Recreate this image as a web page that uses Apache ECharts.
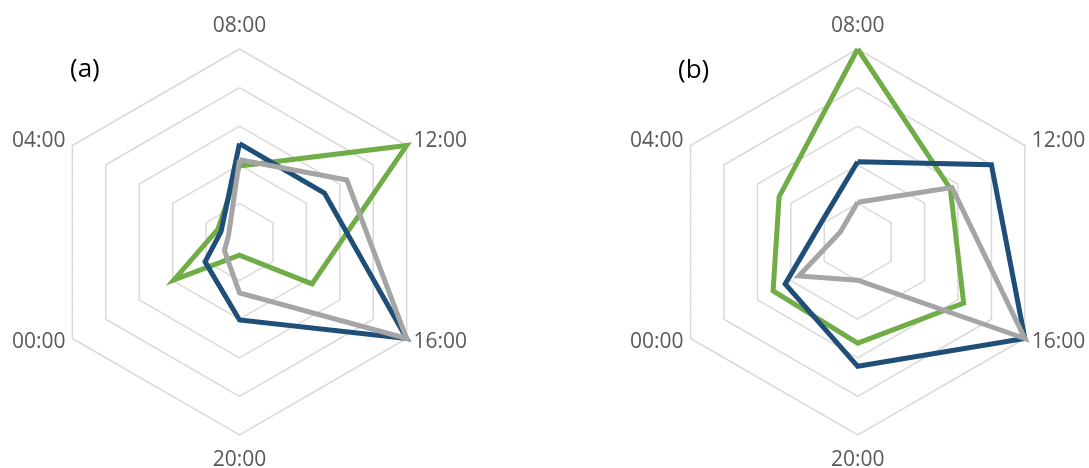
<!DOCTYPE html>
<html>
<head>
<meta charset="utf-8">
<script src="https://cdn.jsdelivr.net/npm/echarts@6/dist/echarts.min.js"></script>
<style>
  html, body { margin: 0; padding: 0; background: #fff; }
  #main { width: 1089px; height: 468px; }
</style>
</head>
<body>
<div id="main"></div>
<script>
// indicator labels, clockwise from the top
var hours = ['08:00', '12:00', '16:00', '20:00', '00:00', '04:00'];
var axisMax = 5;

// panel (a)
var blueA  = [2.55, 2.54, 5, 2.02, 1.03, 0.55];
var greenA = [1.97, 5, 2.17, 0.34, 1.96, 0.65];
var greyA  = [2.13, 3.21, 5, 1.32, 0.45, 0.33];

// panel (b)
var blueB  = [2.08, 4.0, 5, 3.22, 2.17, 1.07];
var greenB = [5, 2.77, 3.17, 2.62, 2.53, 2.35];
var greyB  = [1.03, 2.82, 5, 0.99, 1.76, 0.52];

// echarts lays indicators out anticlockwise, so reorder
var order = [0, 5, 4, 3, 2, 1];
function ccw(arr) { return order.map(function (i) { return arr[i]; }); }

var indicator = ccw(hours).map(function (h) { return { name: h, min: 0, max: axisMax }; });

function radar(cx) {
    return {
        center: [cx, 242],
        radius: 193,
        shape: 'polygon',
        splitNumber: 5,
        indicator: indicator,
        nameGap: 8,
        axisName: { color: '#595959', fontSize: 21, fontFamily: 'Open Sans', padding: [7, 0, 4, 0] },
        axisLine: { show: false },
        splitLine: { lineStyle: { color: '#d9d9d9', width: 1.5 } },
        splitArea: { show: false }
    };
}

function line(idx, values, color) {
    return {
        type: 'radar',
        radarIndex: idx,
        symbol: 'none',
        lineStyle: { color: color, width: 5, join: 'miter' },
        data: [{ value: ccw(values) }]
    };
}

var myChart = echarts.init(document.getElementById('main'));
myChart.setOption({
    animation: false,
    radar: [radar(239.5), radar(857.7)],
    graphic: [
        { type: 'text', x: 70, y: 70, style: { text: '(a)', fill: '#000', font: '26px "Open Sans"', verticalAlign: 'middle' } },
        { type: 'text', x: 678, y: 71, style: { text: '(b)', fill: '#000', font: '26px "Open Sans"', verticalAlign: 'middle' } }
    ],
    series: [
        line(0, greenA, '#70ad47'),
        line(0, blueA, '#1f4e79'),
        line(0, greyA, '#a5a5a5'),
        line(1, greenB, '#70ad47'),
        line(1, blueB, '#1f4e79'),
        line(1, greyB, '#a5a5a5')
    ]
});
</script>
</body>
</html>
